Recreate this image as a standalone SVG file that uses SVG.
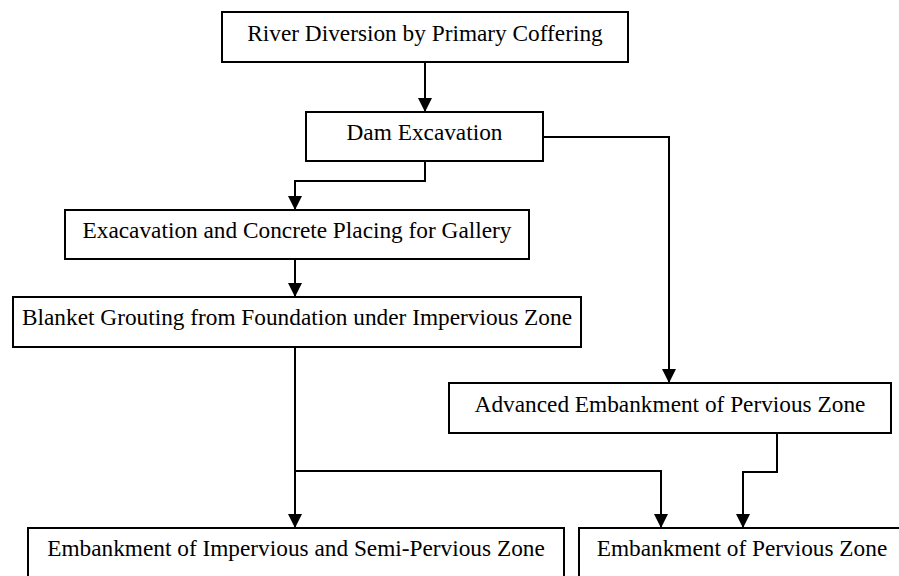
<svg xmlns="http://www.w3.org/2000/svg" width="899" height="576" viewBox="0 0 899 576">
  <style>
    .box { fill: #ffffff; stroke: #000000; stroke-width: 2; }
    .lbl { font-family: "Liberation Serif", "Times New Roman", serif; font-size: 23.3px; fill: #000000; text-anchor: middle; }
    .con { fill: none; stroke: #000000; stroke-width: 2; marker-end: url(#arr); }
  </style>
  <defs>
    <marker id="arr" markerUnits="userSpaceOnUse" markerWidth="14" markerHeight="14" refX="14" refY="7" orient="auto">
      <path d="M0,0 L14,7 L0,14 Z" fill="#000000"/>
    </marker>
  </defs>
  <rect x="0" y="0" width="899" height="576" fill="#ffffff"/>

  <g id="connectors">
    <path class="con" d="M425,62 L425,112"/>
    <path class="con" d="M425,161 L425,181 L295,181 L295,210"/>
    <path class="con" d="M543,137 L669,137 L669,383"/>
    <path class="con" d="M295,259 L295,297"/>
    <path class="con" d="M295,347 L295,528"/>
    <path class="con" d="M295,471 L661,471 L661,528"/>
    <path class="con" d="M777,433 L777,472 L743,472 L743,528"/>
  </g>

  <g id="node-river-diversion">
    <rect class="box" x="222" y="12" width="406" height="50"/>
    <text class="lbl" x="425" y="41">River Diversion by Primary Coffering</text>
  </g>
  <g id="node-dam-excavation">
    <rect class="box" x="306" y="112" width="237" height="49"/>
    <text class="lbl" x="424.5" y="140">Dam Excavation</text>
  </g>
  <g id="node-gallery">
    <rect class="box" x="65" y="210" width="464" height="49"/>
    <text class="lbl" x="297" y="238">Exacavation and Concrete Placing for Gallery</text>
  </g>
  <g id="node-blanket-grouting">
    <rect class="box" x="13" y="297" width="568" height="50"/>
    <text class="lbl" x="297" y="325">Blanket Grouting from Foundation under Impervious Zone</text>
  </g>
  <g id="node-advanced-embankment">
    <rect class="box" x="449" y="383" width="442" height="50"/>
    <text class="lbl" x="670" y="412">Advanced Embankment of Pervious Zone</text>
  </g>
  <g id="node-impervious-embankment">
    <rect class="box" x="28" y="528" width="536" height="52"/>
    <text class="lbl" x="296" y="556">Embankment of Impervious and Semi-Pervious Zone</text>
  </g>
  <g id="node-pervious-embankment">
    <rect class="box" x="579" y="528" width="327" height="52"/>
    <text class="lbl" x="742" y="556">Embankment of Pervious Zone</text>
  </g>
</svg>
